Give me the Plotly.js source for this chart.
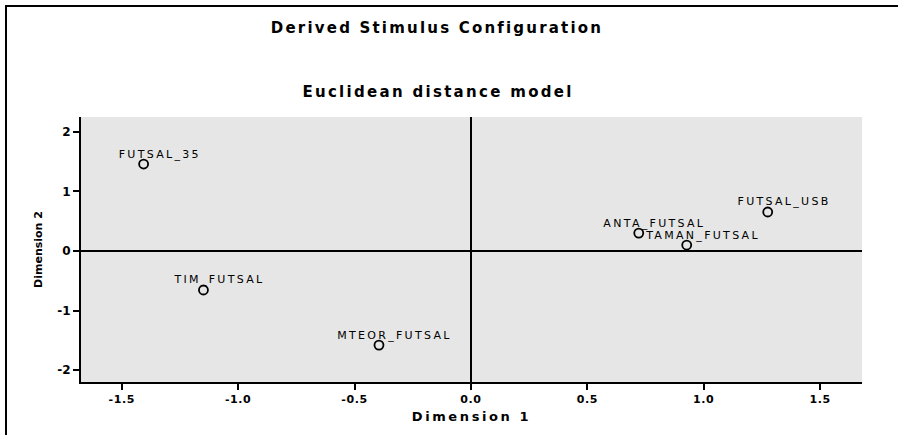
<!DOCTYPE html>
<html>
<head>
<meta charset="utf-8">
<script src="https://cdn.plot.ly/plotly-3.0.1.min.js"></script>
<style>
  html, body { margin: 0; padding: 0; background: #ffffff; overflow: hidden; }
  #wrap { position: relative; width: 898px; height: 435px; }
  #chart { width: 898px; height: 435px; }
  #frame { position: absolute; left: 5px; top: 5px; width: 900px; height: 440px;
           border-top: 2px solid #000; border-left: 2px solid #000; pointer-events: none; }
  .gtitle { letter-spacing: 2.2px; }
  .annotation text { letter-spacing: 2.3px; }
  .xtitle { letter-spacing: 2.6px; }
  .xtick text { letter-spacing: 0.6px; }
</style>
</head>
<body>
<div id="wrap">
  <div id="chart"></div>
  <div id="frame"></div>
</div>
<script>
// ---- data ----
const stimuli = ['FUTSAL_35', 'TIM_FUTSAL', 'MTEOR_FUTSAL', 'ANTA_FUTSAL', 'TAMAN_FUTSAL', 'FUTSAL_USB'];
const dim1 = [-1.406, -1.149, -0.395, 0.721, 0.927, 1.275];
const dim2 = [1.46, -0.655, -1.58, 0.30, 0.10, 0.655];
const xTickVals = [-1.5, -1.0, -0.5, 0.0, 0.5, 1.0, 1.5];
const xTickText = ['-1.5', '-1.0', '-0.5', '0.0', '0.5', '1.0', '1.5'];
const yTickVals = [-2, -1, 0, 1, 2];
const yTickText = ['-2', '-1', '0', '1', '2'];
const mainTitle = 'Derived Stimulus Configuration';
const subTitle = 'Euclidean distance model';
const xTitle = 'Dimension 1';
const yTitle = 'Dimension 2';

// ---- layout geometry ----
const W = 898, H = 435;
const M = { l: 81, r: 36, t: 117, b: 53 };
const pw = W - M.l - M.r, ph = H - M.t - M.b;
const px = v => (v - M.l) / pw;          // page x -> paper x
const py = v => (H - M.b - v) / ph;      // page y -> paper y

const boldFont = { family: 'DejaVu Sans, Arial, sans-serif', color: '#000', weight: 'bold' };

const annotations = [
  { text: subTitle, xref: 'paper', yref: 'paper', x: px(437.5), y: py(92),
    xanchor: 'center', yanchor: 'middle', showarrow: false,
    font: Object.assign({}, boldFont, { size: 15 }) }
];
stimuli.forEach((name, i) => {
  annotations.push({
    text: name, x: dim1[i], y: dim2[i], xref: 'x', yref: 'y',
    xanchor: 'center', yanchor: 'middle', xshift: 16, yshift: 10,
    showarrow: false,
    font: { family: 'DejaVu Sans, Arial, sans-serif', size: 11, color: '#000' }
  });
});

const trace = {
  type: 'scatter', mode: 'markers', x: dim1, y: dim2, text: stimuli,
  marker: { symbol: 'circle-open', size: 9, color: '#000', line: { width: 1.8, color: '#000' } },
  hoverinfo: 'text', showlegend: false
};

const layout = {
  width: W, height: H,
  margin: M,
  paper_bgcolor: '#ffffff',
  plot_bgcolor: '#e6e6e6',
  title: { text: mainTitle, x: 437 / W, xref: 'container', xanchor: 'center',
           y: 1 - 28 / H, yref: 'container', yanchor: 'middle',
           font: Object.assign({}, boldFont, { size: 15 }) },
  xaxis: {
    range: [-1.675, 1.68], tickvals: xTickVals, ticktext: xTickText,
    showgrid: false, zeroline: true, zerolinecolor: '#000', zerolinewidth: 2,
    showline: true, linecolor: '#000', linewidth: 2, mirror: false,
    ticks: 'outside', ticklen: 6, tickwidth: 2, tickcolor: '#000',
    tickfont: Object.assign({}, boldFont, { size: 11 }),
    title: { text: xTitle, standoff: 7, font: Object.assign({}, boldFont, { size: 13 }) },
    automargin: false, fixedrange: true
  },
  yaxis: {
    range: [-2.2, 2.25], tickvals: yTickVals, ticktext: yTickText,
    showgrid: false, zeroline: true, zerolinecolor: '#000', zerolinewidth: 2,
    showline: true, linecolor: '#000', linewidth: 2, mirror: false,
    ticks: 'outside', ticklen: 6, tickwidth: 2, tickcolor: '#000',
    tickfont: Object.assign({}, boldFont, { size: 12 }),
    title: { text: yTitle, standoff: 12, font: Object.assign({}, boldFont, { size: 11 }) },
    automargin: false, fixedrange: true
  },
  annotations: annotations,
  showlegend: false
};

Plotly.newPlot('chart', [trace], layout, { displayModeBar: false, staticPlot: true });
</script>
</body>
</html>
